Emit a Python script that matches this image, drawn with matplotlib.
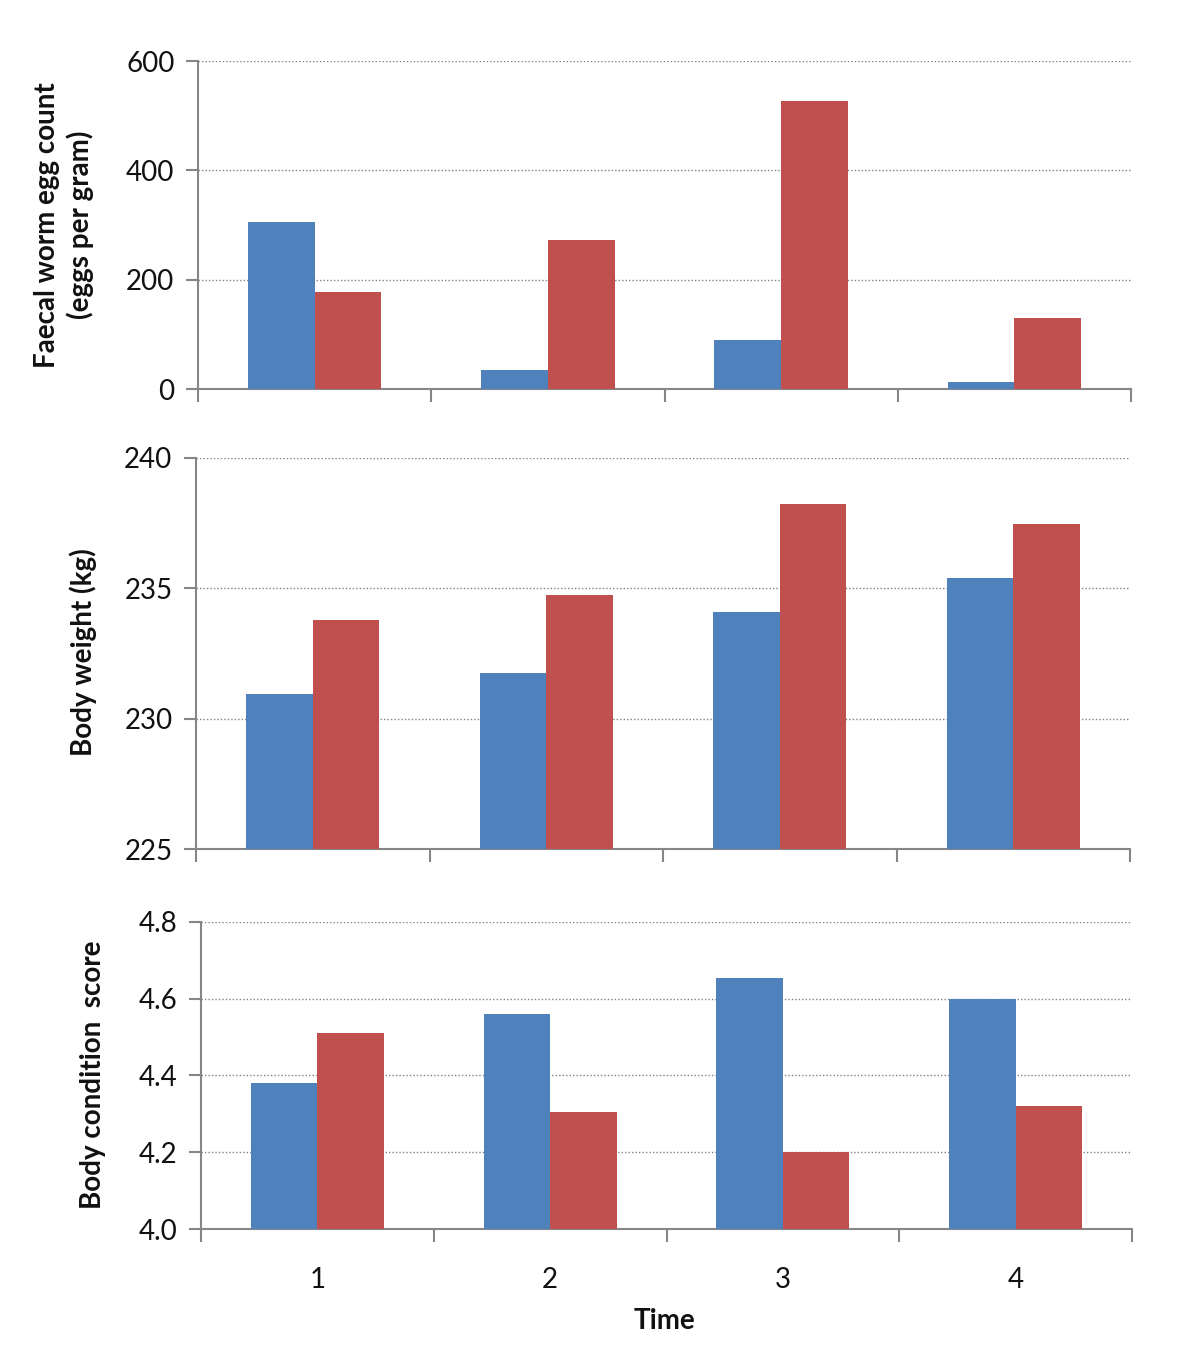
import numpy as np
import matplotlib.pyplot as plt
from matplotlib.ticker import FixedLocator, FormatStrFormatter

plt.rcParams['font.family'] = ['Lato', 'DejaVu Sans']

times = ['1', '2', '3', '4']

# faecal worm egg count (eggs per gram)
fec_blue = [305, 35, 90, 13]
fec_red = [177, 273, 527, 130]

# body weight (kg)
bw_blue = [230.95, 231.75, 234.1, 235.4]
bw_red = [233.8, 234.75, 238.25, 237.45]

# body condition score
bcs_blue = [4.38, 4.56, 4.655, 4.60]
bcs_red = [4.51, 4.305, 4.20, 4.32]

BLUE = '#4F81BD'
RED = '#C0504D'
AXC = '#868686'
TXT = '#111111'
FS = 20

fig = plt.figure(figsize=(12, 13.55), dpi=100)

W, H = 1200.0, 1355.0
def box(l, r, t, b):
    return [l / W, 1 - b / H, (r - l) / W, (b - t) / H]

panels = [
    (box(198, 1131, 61, 389), fec_blue, fec_red, (0, 600), [0, 200, 400, 600], '%d'),
    (box(196, 1130, 458, 849), bw_blue, bw_red, (225, 240), [225, 230, 235, 240], '%d'),
    (box(201, 1132, 922, 1229), bcs_blue, bcs_red, (4.0, 4.8), [4.0, 4.2, 4.4, 4.6, 4.8], '%.1f'),
]

x = np.arange(1, len(times) + 1)
bw = 1 / 3.5

axes = []
for rect, blue, red, ylim, yt, fmt in panels:
    ax = fig.add_axes(rect)
    base = ylim[0]
    ax.bar(x - bw / 2, np.array(blue) - base, bw, bottom=base, color=BLUE, zorder=3)
    ax.bar(x + bw / 2, np.array(red) - base, bw, bottom=base, color=RED, zorder=3)
    ax.set_xlim(0.5, 4.5)
    ax.set_ylim(*ylim)
    ax.set_yticks(yt)
    ax.yaxis.set_major_formatter(FormatStrFormatter(fmt))
    ax.grid(axis='y', linestyle=(0, (1, 1.5)), color='#808080', linewidth=1, zorder=0)
    for s in ['top', 'right']:
        ax.spines[s].set_visible(False)
    for s in ['left', 'bottom']:
        ax.spines[s].set_color(AXC)
        ax.spines[s].set_linewidth(1.5)
    ax.xaxis.set_major_locator(FixedLocator([0.5, 1.5, 2.5, 3.5, 4.5]))
    ax.set_xticklabels([])
    ax.tick_params(axis='x', which='major', length=9, width=1.5, color=AXC, direction='out')
    ax.tick_params(axis='y', length=9, width=1.5, color=AXC, labelsize=FS, pad=8,
                   labelcolor=TXT)
    axes.append(ax)

ax3 = axes[2]
ax3.set_xticks(x, minor=True)
ax3.set_xticklabels(times, minor=True)
ax3.tick_params(axis='x', which='minor', length=0, labelsize=FS, pad=27, labelcolor=TXT)

fig.text(664 / W, 1 - 1321 / H, 'Time', ha='center', va='center', fontsize=FS,
         fontweight='bold', color=TXT)

fig.text(64 / W, 1 - 225 / H, 'Faecal worm egg count\n(eggs per gram)', rotation=90,
         ha='center', va='center', fontsize=FS, fontweight='bold', linespacing=1.3,
         multialignment='center', color=TXT)
fig.text(83 / W, 1 - 652 / H, 'Body weight (kg)', rotation=90, ha='center', va='center',
         fontsize=FS, fontweight='bold', color=TXT)
fig.text(93 / W, 1 - 1075 / H, 'Body condition  score', rotation=90, ha='center',
         va='center', fontsize=FS, fontweight='bold', color=TXT)

fig.savefig('out.png', dpi=100)
